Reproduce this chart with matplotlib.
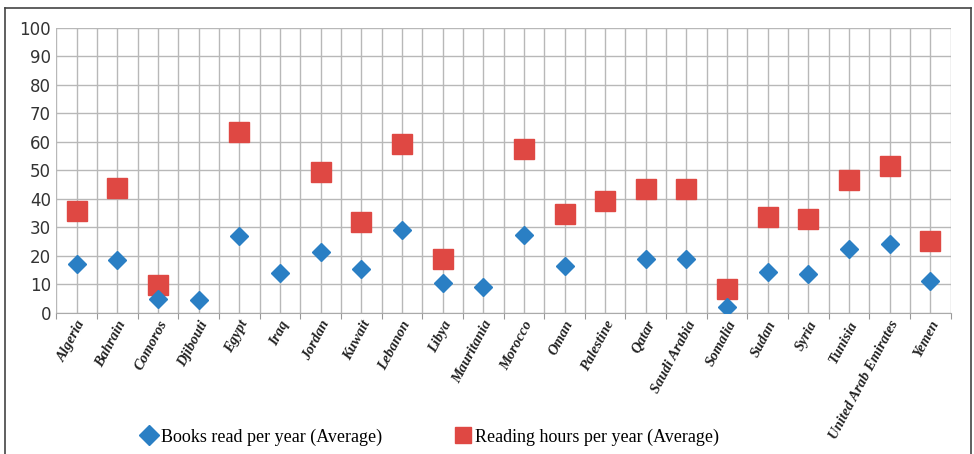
import numpy as np
import matplotlib.pyplot as plt
from matplotlib.ticker import FixedLocator, MultipleLocator
from matplotlib.lines import Line2D

countries = ["Algeria", "Bahrain", "Comoros", "Djibouti", "Egypt", "Iraq", "Jordan",
             "Kuwait", "Lebanon", "Libya", "Mauritania", "Morocco", "Oman", "Palestine",
             "Qatar", "Saudi Arabia", "Somalia", "Sudan", "Syria", "Tunisia",
             "United Arab Emirates", "Yemen"]
books = [17.1, 18.5, 4.8, 4.5, 27.0, 14.0, 21.5, 15.3, 29.0, 10.5, 8.9,
         27.2, 16.5, np.nan, 18.8, 18.8, 1.9, 14.4, 13.6, 22.5, 24.3, 11.2]
hours = [35.7, 43.6, 9.7, np.nan, 63.5, np.nan, 49.5, 31.7, 59.1, 18.7, np.nan,
         57.4, 34.5, 39.1, 43.3, 43.3, 8.2, 33.7, 32.9, 46.6, 51.5, 25.3]

blue = "#2a7fc4"
red = "#df4843"

fig = plt.figure(figsize=(9.74, 4.54), dpi=100)
ax = fig.add_axes([0.058, 0.311, 0.918, 0.628])

x = np.arange(len(countries))
ax.plot(x, hours, linestyle="none", marker="s", ms=14, color=red, zorder=3)
ax.plot(x, books, linestyle="none", marker="D", ms=9.5, color=blue, zorder=4)

ax.set_xlim(-0.5, len(countries) - 0.5)
ax.set_ylim(0, 100)
ax.yaxis.set_major_locator(MultipleLocator(10))
ax.xaxis.set_major_locator(FixedLocator(np.arange(-0.5, len(countries), 1.0)))
ax.set_xticklabels([])
ax.set_xticks(x, minor=True)
ax.set_xticklabels(countries, minor=True, rotation=62, ha="right",
                   rotation_mode="anchor", family="Liberation Serif",
                   style="italic", weight="bold", fontsize=10.5, color="#222222")
ax.tick_params(axis="x", which="minor", length=0, pad=4)
ax.tick_params(axis="x", which="major", length=4, color="#999999")
ax.tick_params(axis="y", length=0, labelsize=12, labelcolor="#333333", pad=4)

ax.grid(True, which="major", axis="both", color="#b8b8b8", lw=1.0)
ax.grid(True, which="minor", axis="x", color="#b8b8b8", lw=1.0)
ax.set_axisbelow(True)
for s in ["top", "right", "left"]:
    ax.spines[s].set_visible(False)
ax.spines["bottom"].set_color("#aaaaaa")

handles = [Line2D([], [], linestyle="none", marker="D", ms=10, color=blue),
           Line2D([], [], linestyle="none", marker="s", ms=12, color=red)]
fig.legend(handles, ["Books read per year (Average)", "Reading hours per year (Average)"],
           loc="center", bbox_to_anchor=(0.441, 0.037), ncol=2, frameon=False,
           prop={"family": "Liberation Serif", "size": 13}, columnspacing=4,
           handletextpad=0.15, handlelength=1.0)

# outer frame
frame_kw = dict(color="#444444", lw=1.2, transform=fig.transFigure)
fig.add_artist(Line2D([0.005, 0.997], [0.982, 0.982], **frame_kw))
fig.add_artist(Line2D([0.005, 0.005], [0.0, 0.982], **frame_kw))
fig.add_artist(Line2D([0.997, 0.997], [0.0, 0.982], **frame_kw))

fig.savefig("out.png", dpi=100)
